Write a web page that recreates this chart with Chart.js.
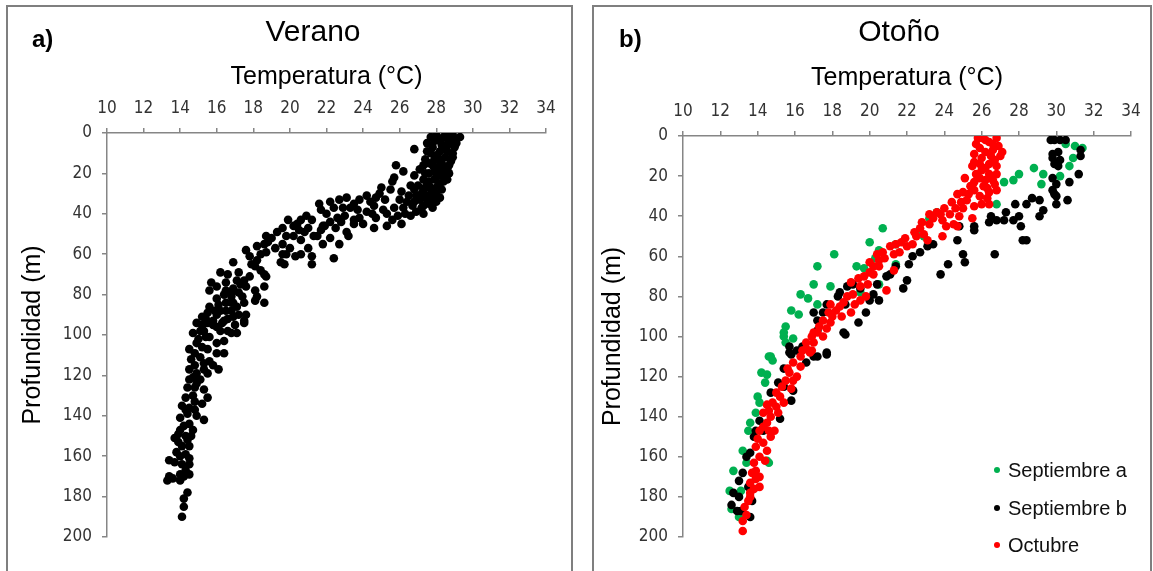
<!DOCTYPE html>
<html lang="es">
<head>
<meta charset="UTF-8">
<title>Perfiles de temperatura</title>
<script src="https://cdn.jsdelivr.net/npm/chart.js"></script>
<style>
  body { margin: 0; background: #fff; width: 1153px; height: 571px; overflow: hidden; position: relative; font-family: 'Liberation Sans', Arial, sans-serif; }
  .frame { position: absolute; top: 5px; height: 620px; border: 2px solid #7f7f7f; box-sizing: border-box; }
  canvas { position: absolute; top: 0; }
  .lbl { position: absolute; font-weight: bold; font-size: 24px; line-height: 24px; color: #000; }
  .ttl { position: absolute; font-size: 30px; line-height: 30px; color: #000; transform: translateX(-50%); white-space: nowrap; }
  #legend { position: absolute; left: 994px; top: 456px; }
  .item { height: 37.5px; font-size: 20px; line-height: 28px; color: #111; white-space: nowrap; }
  .dot { display: inline-block; width: 6px; height: 6px; border-radius: 50%; margin-right: 8px; vertical-align: 4px; }
</style>
</head>
<body>
<div class="frame" style="left:6px; width:567px;"></div>
<div class="frame" style="left:592px; width:560px;"></div>
<canvas id="verano" width="580" height="571" style="left:0"></canvas>
<canvas id="otono" width="573" height="571" style="left:580px"></canvas>
<div class="lbl" style="left:32px; top:27px;">a)</div>
<div class="ttl" style="left:313px; top:16px;">Verano</div>
<div class="lbl" style="left:619px; top:27px;">b)</div>
<div class="ttl" style="left:899px; top:16px;">Otoño</div>
<div id="legend"></div>

<script>
// axis ticks
const tempTicks = [10, 12, 14, 16, 18, 20, 22, 24, 26, 28, 30, 32, 34];
const depthTicks = [0, 20, 40, 60, 80, 100, 120, 140, 160, 180, 200];

// [temperatura °C, profundidad m]
const verano = [
  [28.8,0],[29.3,2],[28.6,3],[27.7,2],[28.2,4],[28.8,5],[27.8,7],[26.8,8],[28.4,8],[28.9,10],[27.7,10],[28.1,12],[28.8,14],[27.4,13],[27.8,16],[28.4,17],[27.1,18],[28.7,20],[27.6,20],[26.8,21],[28.0,22],[27.3,23],[28.4,24],[27.0,26],[27.7,27],[27.9,29],[26.8,28],[27.4,31],[28.2,32],[27.1,33],[27.8,33],[26.8,34],
  [28.5,1],[29.0,3],[28.3,6],[27.5,5],[28.6,9],[28.2,14],[27.6,15],[28.5,19],[27.9,19],[28.3,21],[27.5,25],[28.1,26],[27.3,28],[28.0,30],[27.6,35],[27.2,30],[26.5,31],[26.0,33],
  [28.0,1],[28.9,1],[29.1,5],[28.4,2],[27.9,4],[28.6,6],[29.0,7],[28.2,9],[27.5,9],[28.0,11],[28.5,12],[28.9,12],[27.9,13],[28.3,15],[28.7,16],[27.3,16],[28.0,17],[28.6,18],[27.4,20],[28.2,19],[27.9,23],[28.6,23],[27.6,24],[28.2,25],[27.4,27],[28.3,28],[27.7,30],[26.9,31],[27.5,33],[28.0,34],[27.3,36],[26.4,34],[27.8,37],
  [25.8,16],[26.2,19],[25.7,22],[25.6,24],[25.0,27],[26.6,26],[26.1,29],[25.5,28],[24.9,30],[24.7,32],[25.2,33],[24.2,31],[23.8,33],[23.5,35],[23.1,32],[22.7,33],[22.2,34],[21.6,35],[21.7,38],[22.4,37],[22.9,37],[23.7,38],[24.2,39],[24.6,36],[25.1,38],[25.7,37],[26.2,37],[26.7,36],[27.2,37],[27.3,40],[26.6,41],[25.9,41],[25.3,40],[24.7,42],[24.0,45],[23.5,43],[23.0,41],[22.6,42],[22.2,44],[21.8,46],[21.7,48],[21.9,46],[21.5,51],[22.2,52],[22.7,55],[23.2,51],[23.1,49],[23.5,45],[24.6,47],[25.3,46],[26.1,45],
  [24.4,34],[23.3,37],[22.0,40],[21.2,43],[20.4,45],[19.6,47],[19.0,52],[19.6,55],[20.0,57],[21.0,57],[22.8,44],[23.8,42],[24.5,40],[25.6,43],[26.3,40],[26.9,39],[22.5,47],[21.0,47],
  [20.6,43],[20.9,41],[19.9,43],[20.2,46],[20.5,48],[20.8,49],[21.3,51],[20.6,53],[20.2,51],[19.8,51],[19.3,49],[18.7,51],[18.6,55],[18.8,54],[19.2,57],[19.6,60],[19.8,60],[20.3,61],[20.6,60],[21.2,61],[21.2,65],[21.8,55],[22.4,62],[19.5,64],[19.7,65],[18.7,59],[18.4,60],[18.2,63],[17.6,58],[17.8,61],[18.1,66],[18.6,70],[18.7,71],[18.6,76],[18.6,84],[18.2,81],[18.1,78],[17.6,76],[17.5,73],[17.2,69],[16.9,64],[16.6,70],[16.2,69],[16.5,74],[17.1,73],[16.8,79],[16.5,78],[16.0,82],[15.7,74],[15.6,78],[16.0,76],[17.2,79],[17.5,84],[17.1,86],[16.8,84],[16.5,88],[16.2,88],[15.6,86],[15.5,89],[15.2,91],[14.9,94],[14.7,99],[15.1,98],[15.5,94],[15.8,93],[16.3,94],[16.6,98],[17.0,95],[17.1,99],[17.6,90],[17.5,93],
  [18.2,56],[17.9,65],[18.4,68],[17.8,71],[17.3,75],[16.9,77],[16.4,80],[16.8,81],[17.4,81],[16.1,85],[15.9,88],[16.8,88],[17.2,90],[15.4,92],[16.6,92],[15.2,95],[16.0,96],
  [16.5,84],[16.9,84],[18.1,83],[16.0,90],[16.4,93],[16.9,91],[17.5,94],[15.8,95],[15.3,98],[16.2,98],[16.8,99],[15.6,101],[16.4,103],[14.9,104],[14.5,107],[15.5,107],[16.0,109],[16.4,109],[15.1,111],[14.6,112],[15.6,113],[16.1,117],[14.5,117],[14.9,119],[15.5,119],[15.1,122],[14.5,122],[14.4,126],[14.8,126],[15.3,127],[14.3,131],[15.5,131],[15.2,134],[14.1,135],[14.5,136],[14.4,139],[14.0,141],[14.9,140],[15.3,142],[14.5,144],[14.7,147],[13.9,149],[13.7,151],[14.4,152],[14.1,155],[14.5,155],[13.8,158],[14.3,159],[13.4,162],[14.1,164],[14.5,164],[14.0,169],[14.5,169],[13.4,170],[13.3,172],[14.2,170],[14.4,178],[14.2,181],[14.2,185],[14.1,190],
  [15.4,101],[15.0,102],[16.0,104],[15.2,106],[14.8,109],[15.3,114],[14.8,115],[15.8,115],[15.3,117],[14.7,121],[14.9,124],[14.7,130],[14.8,133],[14.3,137],[14.8,137],[14.2,145],[14.0,147],[14.3,150],[14.6,150],[13.9,153],[14.0,160],[14.5,161],[13.7,163],[14.3,167],[13.6,171],[14.0,172]
];

const septiembreA = [
  [30.5,4],[31.0,5],[31.4,6],[30.9,11],[30.7,15],[30.2,20],[29.3,19],[29.2,24],[28.8,16],[28.0,19],[27.7,22],[27.2,23],[26.8,34],[23.6,38],[23.2,41],[22.9,50],[22.5,49],[21.4,54],[20.7,46],[20.0,53],[20.5,57],[20.3,61],[19.7,66],[19.3,65],[20.5,74],[21.4,64],[19.5,78],[18.1,59],[17.2,65],[17.0,74],[16.3,79],[16.7,81],[17.9,75],[17.2,84],[15.8,87],[16.2,89],[15.5,95],[15.4,100],[15.9,101],[14.7,110],
  [15.4,98],[15.5,103],[14.6,110],[14.8,112],[14.2,118],[14.5,119],[14.4,123],[14.0,130],[14.1,133],[13.9,138],[13.6,143],[13.5,147],[13.2,157],[13.4,163],[12.7,167],[12.5,177],[13.1,177],[12.6,186],[13.0,190],[14.5,162],[14.6,163]
];

const septiembreB = [
  [29.7,2],[29.9,2],[30.2,2],[30.5,2],[29.8,9],[30.1,8],[29.8,11],[30.2,12],[29.9,14],[30.1,15],[31.3,7],[31.3,10],[31.2,19],[30.7,23],[29.8,21],[30.0,24],[29.8,27],[29.9,29],[30.0,30],[30.0,34],[30.6,32],[29.1,32],[28.7,31],[28.4,34],[29.3,37],[29.1,40],[27.8,34],[27.3,38],[26.5,40],[26.4,43],[26.8,42],[27.2,42],[27.7,42],[28.0,40],[28.1,45],[28.2,52],[28.4,52],[26.7,59],[25.6,45],[25.6,47],[24.8,45],[24.7,52],[25.0,59],[25.1,63],[24.2,64],[23.8,69],[23.4,54],[23.1,55],[22.7,58],[22.3,60],[22.1,64],[21.4,65],[21.1,69],[20.9,70],[22.0,72],[21.8,76],[20.4,74],[20.2,79],[20.0,82],[20.5,82],[19.5,76],[19.1,74],[18.8,75],[18.4,78],[18.3,80],[18.7,84],[19.8,88],[19.4,93],[18.6,98],[17.7,84],[17.5,88],[17.2,92],[17.0,88],[17.2,97],[17.7,108],[17.0,110],[16.4,105],[16.1,107],[15.7,108],
  [18.7,99],[17.7,109],[17.2,110],[16.6,113],[15.7,105],[15.8,109],[15.4,116],[15.1,123],[15.4,125],[15.9,127],[15.8,132],[15.2,141],[14.7,128],[14.1,142],[13.9,147],[13.8,150],[14.3,147],[13.6,158],[13.4,160],[13.2,168],[13.0,172],[13.5,175],[12.7,178],[13.0,180],[12.6,184],[13.1,187],[13.7,182],[12.9,187],[13.6,190]
];

const octubre = [
  [25.8,1],[26.0,1],[26.8,1],[26.4,3],[25.9,6],[25.6,9],[26.2,8],[26.6,7],[27.1,8],[27.0,10],[26.5,10],[25.6,13],[25.5,15],[26.0,17],[26.4,14],[26.8,15],[26.4,19],[26.8,19],[25.1,21],[25.6,23],[26.2,22],[26.6,22],[26.7,24],[26.1,25],[25.6,27],[25.0,28],[24.7,29],[25.3,29],[25.9,30],[26.4,28],[26.0,34],[26.4,34],[25.6,35],[25.0,36],[24.6,36],[24.0,36],[23.6,38],[23.2,39],[23.8,39],[24.3,39],[24.8,40],[25.5,41],[24.5,44],[24.1,45],[24.7,45],[23.2,44],[22.7,46],[22.4,48],[22.9,49],[22.5,50],[23.1,52],[23.9,50],[22.3,54],[22.0,55],[21.6,58],[21.4,54],[21.1,55],[21.3,59],[20.7,58],[20.4,59],[20.5,62],[20.2,65],[20.5,65],[20.0,68],[19.7,70],[20.2,69],[21.3,67],[20.9,77],[19.9,74],[19.5,75],[19.1,79],[18.8,80],[19.8,80],[19.5,82],[18.6,83],[17.9,84],[18.2,87],[19.0,88],[18.5,90],[17.8,88],[17.5,92],[17.3,95],[17.9,93],[17.2,98],[17.5,100],[17.0,103],[16.4,107],[16.8,108],[16.3,110],
  [26.2,2],[26.6,4],[25.7,4],[26.9,5],[26.0,11],[26.7,12],[25.9,14],[26.2,16],[25.7,19],[26.5,20],[25.9,21],[26.3,26],[26.8,27],[25.4,25],[26.3,31],[25.2,32],[24.4,33],[24.9,33],[23.9,42],[23.4,41],[22.8,43],[21.9,51],[21.7,53],[20.8,61],[20.0,63],[19.4,71],[19.0,73],[19.2,84],[18.4,85],[18.0,90],[17.7,96],[16.9,100],[16.6,106],
  [17.0,98],[16.6,103],[16.9,107],[15.9,113],[16.3,115],[15.7,118],[16.1,120],[15.5,122],[15.3,125],[15.8,126],[15.0,128],[14.8,133],[15.4,133],[14.5,134],[15.1,138],[14.7,140],[14.3,138],[14.5,143],[14.9,147],[14.1,147],[14.7,150],[14.3,153],[13.9,155],[14.5,157],[14.1,160],[13.8,163],[13.9,167],[14.1,170],[13.7,168],[13.6,173],[14.1,175],[13.6,178],[13.5,182],[13.3,185],[13.4,189],[13.2,192],[13.2,197],
  [15.6,116],[15.9,122],[15.2,130],[15.0,135],[14.6,137],[14.3,145],[14.6,147],[14.0,151],[14.4,162],[13.9,171],[13.8,176],[13.6,180]
];

const seriesNames = ['Septiembre a', 'Septiembre b', 'Octubre'];
const seriesColors = ['#00b050', '#000000', '#ff0000'];

const narrow = "'Liberation Sans Narrow', 'Arial Narrow', 'DejaVu Sans Condensed', sans-serif";
const sans = "'Liberation Sans', Arial, sans-serif";
const axisGray = '#868686';

function toPoints(pairs) {
  return pairs.map(p => ({ x: p[0], y: p[1] }));
}

function scatterSet(label, pairs, color, order) {
  return {
    label: label,
    data: toPoints(pairs),
    backgroundColor: color,
    borderColor: color,
    pointRadius: 4.3,
    pointBorderWidth: 0,
    pointHoverRadius: 4.3,
    order: order
  };
}

// shared options, the plot area is pinned with afterFit + padding
function options(plotLeft, plotTop, padRight, titleTop) {
  return {
    responsive: false,
    animation: false,
    layout: { padding: { left: 0, top: 0, right: padRight, bottom: 34 } },
    plugins: { legend: { display: false }, tooltip: { enabled: false } },
    scales: {
      x: {
        type: 'linear',
        position: 'top',
        min: tempTicks[0],
        max: tempTicks[tempTicks.length - 1],
        afterBuildTicks: s => { s.ticks = tempTicks.map(v => ({ value: v })); },
        afterFit: s => { s.height = plotTop; },
        ticks: { padding: 9, color: '#333', font: { family: narrow, size: 17 } },
        grid: { drawOnChartArea: false, tickLength: 5, color: axisGray, lineWidth: 1.5 },
        border: { color: axisGray, width: 1.5 },
        title: { display: true, text: 'Temperatura (°C)', color: '#000', font: { family: sans, size: 25 }, padding: { top: titleTop, bottom: 0 } }
      },
      y: {
        type: 'linear',
        reverse: true,
        min: depthTicks[0],
        max: depthTicks[depthTicks.length - 1],
        afterBuildTicks: s => { s.ticks = depthTicks.map(v => ({ value: v })); },
        afterFit: s => { s.width = plotLeft; },
        ticks: { padding: 10, color: '#333', font: { family: narrow, size: 17 } },
        grid: { drawOnChartArea: false, tickLength: 5, color: axisGray, lineWidth: 1.5 },
        border: { color: axisGray, width: 1.5 },
        title: { display: true, text: 'Profundidad (m)', color: '#000', font: { family: sans, size: 25 }, padding: { top: 18, bottom: 0 } }
      }
    }
  };
}

new Chart(document.getElementById('verano'), {
  type: 'scatter',
  data: { datasets: [scatterSet('Verano', verano, '#000000', 1)] },
  options: options(107, 133, 34, 62)
});

const otonoChart = new Chart(document.getElementById('otono'), {
  type: 'scatter',
  data: {
    datasets: [
      scatterSet(seriesNames[0], septiembreA, seriesColors[0], 3),
      scatterSet(seriesNames[1], septiembreB, seriesColors[1], 2),
      scatterSet(seriesNames[2], octubre, seriesColors[2], 1)
    ]
  },
  options: options(103, 136, 22, 63)
});

// legend for panel b
const legend = document.getElementById('legend');
otonoChart.data.datasets.forEach(ds => {
  const item = document.createElement('div');
  item.className = 'item';
  item.innerHTML = '<span class="dot" style="background:' + ds.backgroundColor + '"></span>' + ds.label;
  legend.appendChild(item);
});
</script>
</body>
</html>
